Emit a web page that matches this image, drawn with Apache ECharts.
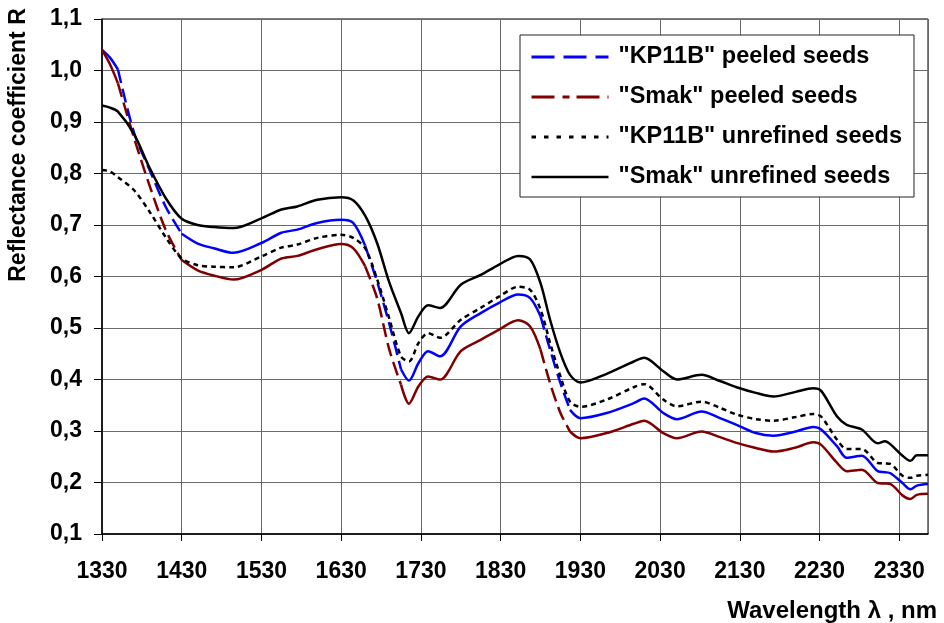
<!DOCTYPE html>
<html>
<head>
<meta charset="utf-8">
<script src="https://cdn.jsdelivr.net/npm/echarts@6/dist/echarts.min.js"></script>
<style>
  html, body { margin: 0; padding: 0; background: #fff; }
  #chart { width: 944px; height: 623px; }
</style>
</head>
<body>
<div id="chart"></div>
<script>
// wavelength, nm
const wavelengths = [1330, 1340, 1350, 1370, 1390, 1410, 1430, 1450, 1470, 1495, 1530, 1555, 1575, 1600, 1630, 1645,
  1660, 1675, 1690, 1705, 1715, 1727, 1739, 1754, 1780, 1805, 1828, 1852, 1867, 1880, 1892, 1905, 1917, 1930,
  1963, 1997, 2010, 2034, 2051, 2082, 2105, 2126, 2150, 2172, 2200, 2222, 2232, 2252, 2264, 2283, 2303, 2312,
  2319, 2334, 2344, 2352, 2366]

const seriesNames = ['"KP11B" peeled seeds', '"Smak" peeled seeds', '"KP11B" unrefined seeds', '"Smak" unrefined seeds']

// reflectance coefficient R
const kp11bPeeled = [1.040, 1.025, 1.002, 0.880, 0.806, 0.735, 0.683, 0.664, 0.655, 0.646, 0.665, 0.685, 0.691, 0.704,
  0.710, 0.704, 0.660, 0.590, 0.510, 0.420, 0.398, 0.432, 0.455, 0.445, 0.503, 0.529, 0.549, 0.565, 0.558, 0.523,
  0.458, 0.393, 0.341, 0.325, 0.335, 0.354, 0.363, 0.335, 0.323, 0.338, 0.325, 0.312, 0.296, 0.291, 0.299, 0.308,
  0.303, 0.270, 0.248, 0.252, 0.222, 0.220, 0.218, 0.199, 0.187, 0.194, 0.197]
const smakPeeled = [1.040, 1.012, 0.975, 0.870, 0.775, 0.690, 0.632, 0.612, 0.602, 0.594, 0.613, 0.635, 0.640, 0.653,
  0.663, 0.655, 0.620, 0.558, 0.460, 0.390, 0.353, 0.387, 0.406, 0.400, 0.455, 0.477, 0.497, 0.515, 0.503, 0.458,
  0.393, 0.335, 0.299, 0.286, 0.296, 0.314, 0.320, 0.296, 0.286, 0.299, 0.288, 0.277, 0.267, 0.260, 0.268, 0.278,
  0.273, 0.238, 0.222, 0.225, 0.199, 0.198, 0.197, 0.175, 0.168, 0.176, 0.178]
const kp11bUnrefined = [0.807, 0.804, 0.793, 0.768, 0.725, 0.676, 0.635, 0.622, 0.619, 0.618, 0.639, 0.656, 0.662, 0.675,
  0.681, 0.675, 0.655, 0.595, 0.520, 0.445, 0.435, 0.471, 0.490, 0.481, 0.516, 0.539, 0.561, 0.580, 0.574, 0.536,
  0.471, 0.406, 0.357, 0.347, 0.361, 0.385, 0.391, 0.361, 0.348, 0.357, 0.345, 0.332, 0.323, 0.320, 0.327, 0.333,
  0.328, 0.283, 0.265, 0.265, 0.238, 0.237, 0.236, 0.213, 0.209, 0.213, 0.215]
const smakUnrefined = [0.932, 0.928, 0.920, 0.877, 0.810, 0.752, 0.712, 0.700, 0.696, 0.694, 0.713, 0.730, 0.736, 0.749,
  0.754, 0.748, 0.718, 0.665, 0.590, 0.529, 0.490, 0.523, 0.544, 0.539, 0.584, 0.603, 0.623, 0.640, 0.633, 0.587,
  0.516, 0.451, 0.409, 0.394, 0.411, 0.435, 0.442, 0.416, 0.400, 0.409, 0.397, 0.385, 0.374, 0.367, 0.376, 0.383,
  0.378, 0.328, 0.312, 0.303, 0.276, 0.280, 0.274, 0.252, 0.242, 0.253, 0.253]

// steep parts where the dashed lines show their gaps
const dashRanges = [[1350, 1430], [1660, 1705], [1880, 1917]]

const FONT = '"Liberation Sans", Arial, sans-serif'
const BLUE = '#0000ff'
const DARKRED = '#800000'

const inside = w => dashRanges.some(([a, b]) => w > a && w < b)
const onDash = w => dashRanges.some(([a, b]) => w >= a && w <= b)

function solidPart (values) {
  return wavelengths.map((w, i) => [w, inside(w) ? null : values[i]])
}
function dashedPart (values) {
  return wavelengths.map((w, i) => [w, onDash(w) ? values[i] : null])
}
function allPoints (values) {
  return wavelengths.map((w, i) => [w, values[i]])
}

function line (name, data, color, width, type) {
  return {
    name,
    type: 'line',
    data,
    symbol: 'none',
    smooth: 0.3,
    connectNulls: false,
    animation: false,
    itemStyle: { color },
    lineStyle: { color, width, type }
  }
}

// legend entry: line only, the marker hidden
function legendItem (name, color, width, type) {
  return { name, itemStyle: { opacity: 0 }, lineStyle: { color, width, type } }
}

const chart = echarts.init(document.getElementById('chart'))

const labelStyle = { fontFamily: FONT, fontSize: 23, fontWeight: 'bold', color: '#000' }

chart.setOption({
  animation: false,
  backgroundColor: '#fff',
  grid: { left: 102, right: 16, top: 19, bottom: 89, show: true, borderColor: '#000', borderWidth: 1 },
  xAxis: {
    type: 'value',
    min: 1330,
    max: 2366,
    interval: 100,
    axisLine: { lineStyle: { color: '#000', width: 1.5 } },
    axisTick: { length: 7, lineStyle: { color: '#000' } },
    axisLabel: { ...labelStyle, margin: 26, showMaxLabel: false, formatter: v => String(v) },
    splitLine: { lineStyle: { color: '#6a6a6a', width: 1 } }
  },
  yAxis: {
    type: 'value',
    min: 0.1,
    max: 1.1,
    interval: 0.1,
    axisLine: { show: true, lineStyle: { color: '#000', width: 1.5 } },
    axisTick: { show: true, length: 8, lineStyle: { color: '#000' } },
    axisLabel: { ...labelStyle, margin: 20, formatter: v => v.toFixed(1).replace('.', ',') },
    splitLine: { lineStyle: { color: '#6a6a6a', width: 1 } }
  },
  legend: {
    orient: 'vertical',
    left: 520,
    top: 35,
    padding: [9, 12, 7, 10],
    itemGap: 14,
    itemWidth: 77,
    itemHeight: 14,
    selectedMode: false,
    backgroundColor: '#fff',
    borderColor: '#222',
    borderWidth: 1,
    textStyle: { ...labelStyle, fontSize: 23.5, lineHeight: 26, padding: [0, 0, 0, 5] },
    data: [
      legendItem(seriesNames[0], BLUE, 3, [23, 9]),
      legendItem(seriesNames[1], DARKRED, 3, [23, 8, 7, 7]),
      legendItem(seriesNames[2], '#000', 3, [4.5, 8]),
      legendItem(seriesNames[3], '#000', 2.5, 'solid')
    ]
  },
  graphic: [
    {
      type: 'text',
      x: 19,
      y: 145,
      rotation: Math.PI / 2,
      style: { text: 'Reflectance coefficient R', font: 'bold 23px ' + FONT, fill: '#000', align: 'center', verticalAlign: 'middle' }
    },
    {
      type: 'text',
      x: 937,
      y: 611,
      style: { text: 'Wavelength λ , nm', font: 'bold 24px ' + FONT, fill: '#000', align: 'right', verticalAlign: 'middle' }
    }
  ],
  series: [
    line(seriesNames[0], solidPart(kp11bPeeled), BLUE, 2.5, 'solid'),
    line(seriesNames[0], dashedPart(kp11bPeeled), BLUE, 2.5, [14, 6]),
    line(seriesNames[1], solidPart(smakPeeled), DARKRED, 2.5, 'solid'),
    line(seriesNames[1], dashedPart(smakPeeled), DARKRED, 2.5, [14, 6]),
    line(seriesNames[2], allPoints(kp11bUnrefined), '#000', 2.5, [5, 4]),
    line(seriesNames[3], allPoints(smakUnrefined), '#000', 2.5, 'solid')
  ]
})
</script>
</body>
</html>
